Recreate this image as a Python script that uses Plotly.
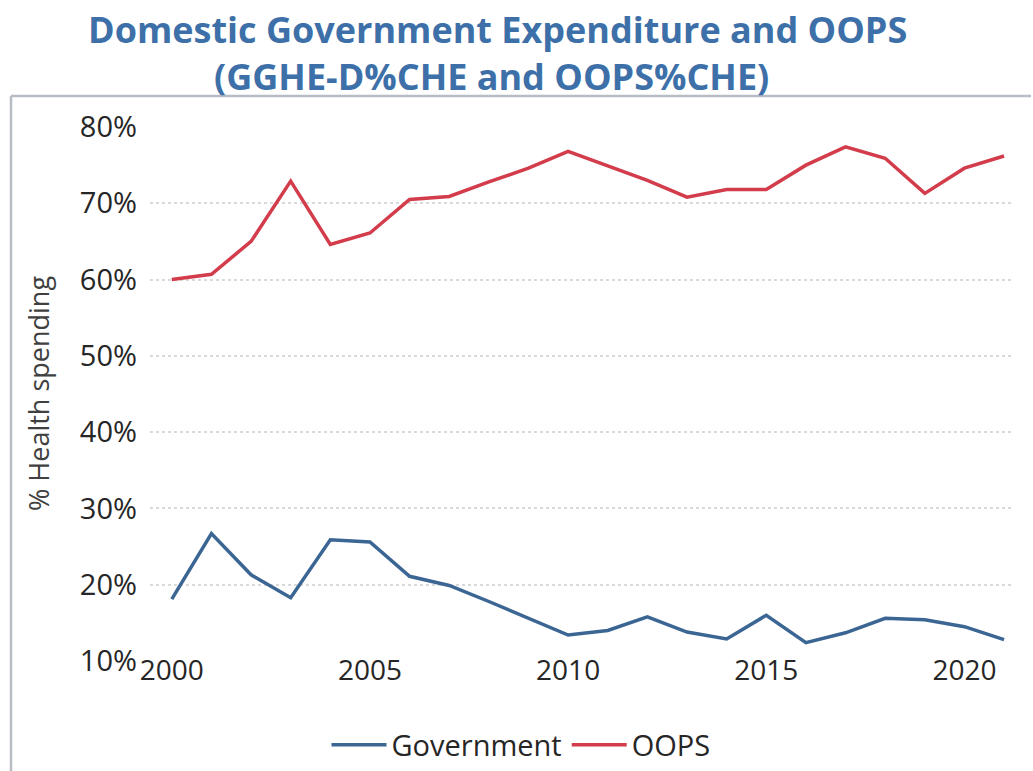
import plotly.graph_objects as go

years = list(range(2000, 2022))
government = [18.1, 26.7, 21.3, 18.3, 25.9, 25.6, 21.1, 19.9, 17.8, 15.6, 13.4,
              14.0, 15.8, 13.8, 12.9, 16.0, 12.4, 13.7, 15.6, 15.4, 14.5, 12.8]
oops = [60.0, 60.7, 65.0, 72.9, 64.6, 66.1, 70.5, 70.9, 72.8, 74.6, 76.8,
        74.9, 73.0, 70.8, 71.8, 71.8, 75.0, 77.4, 75.9, 71.3, 74.6, 76.2]
y_ticks = [10, 20, 30, 40, 50, 60, 70, 80]
x_ticks = [2000, 2005, 2010, 2015, 2020]

W, H = 1033, 771
L, R, T, B = 150, 1012, 127, 661  # plot area in pixels

def px(p):
    return (p - L) / (R - L)

def py(p):
    return (B - p) / (B - T)

fig = go.Figure()
fig.add_trace(go.Scatter(x=years, y=government, mode="lines", name="Government",
                         line=dict(color="#3b6694", width=3.5)))
fig.add_trace(go.Scatter(x=years, y=oops, mode="lines", name="OOPS",
                         line=dict(color="#d23c4b", width=3.5)))

title_font = dict(family="Open Sans", size=36, color="#3d70a8")
fig.add_annotation(text="<b>Domestic Government Expenditure and OOPS</b>",
                   xref="paper", yref="paper", x=px(497), y=py(29),
                   xanchor="center", yanchor="middle", showarrow=False, font=title_font)
fig.add_annotation(text="<b>(GGHE-D%CHE and OOPS%CHE)</b>",
                   xref="paper", yref="paper", x=px(491), y=py(76),
                   xanchor="center", yanchor="middle", showarrow=False, font=title_font)

# y-axis title
fig.add_annotation(text="% Health spending", textangle=-90,
                   xref="paper", yref="paper", x=px(38), y=py(394),
                   xanchor="center", yanchor="middle", showarrow=False,
                   font=dict(family="Open Sans", size=27, color="#404040"))

# frame around the chart area
border = dict(color="#b8bcc4", width=2.5)
fig.add_shape(type="line", xref="paper", yref="paper",
              x0=px(11), x1=px(1031), y0=py(96), y1=py(96), line=border)
fig.add_shape(type="line", xref="paper", yref="paper",
              x0=px(11), x1=px(11), y0=py(96), y1=py(775), line=border)

fig.update_layout(
    width=W, height=H,
    margin=dict(l=L, r=W - R, t=T, b=H - B, autoexpand=False),
    paper_bgcolor="white", plot_bgcolor="white",
    font=dict(family="Open Sans", color="#404040"),
    showlegend=True,
    legend=dict(orientation="h", xref="container", yref="container",
                x=521 / W, y=(H - 745) / H, xanchor="center", yanchor="middle",
                font=dict(size=29, color="#262626"), itemwidth=55),
    xaxis=dict(range=[1999.45, 2021.2], tickvals=x_ticks, showgrid=False, zeroline=False,
               showline=False, ticks="", tickfont=dict(size=28, color="#262626"),
               ticklabelstandoff=-10),
    yaxis=dict(range=[10, 80], tickvals=y_ticks, ticktext=[f"{v}%" for v in y_ticks],
               showgrid=True, gridcolor="#d9d9d9", gridwidth=1.5, griddash="dot",
               zeroline=False, showline=False, ticks="",
               tickfont=dict(size=29, color="#262626"), ticklabelstandoff=12),
)

fig.write_html("out.html")
